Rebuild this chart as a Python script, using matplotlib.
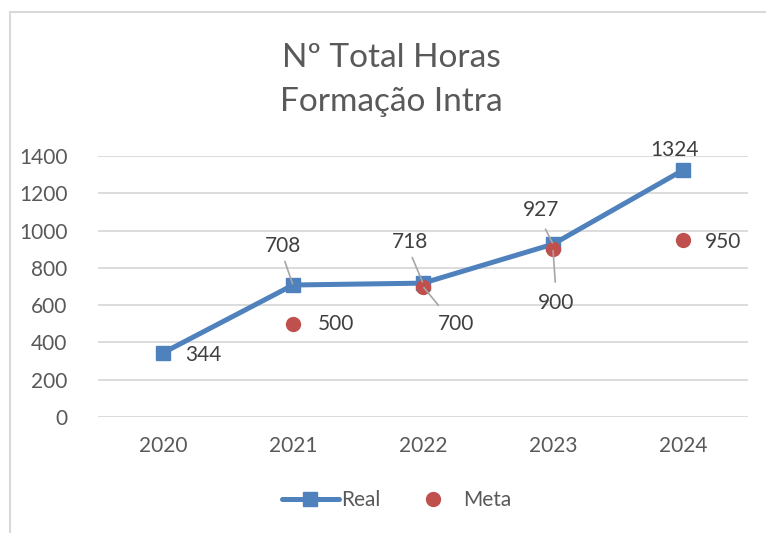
import matplotlib
matplotlib.use('Agg')
import matplotlib.pyplot as plt
from matplotlib.lines import Line2D

plt.rcParams['font.family'] = ['Lato', 'DejaVu Sans']

# data
anos = ['2020', '2021', '2022', '2023', '2024']
real = [344, 708, 718, 927, 1324]
meta = [None, 500, 700, 900, 950]
yticks = [0, 200, 400, 600, 800, 1000, 1200, 1400]

azul = '#4f81bd'
vermelho = '#c0504d'
cinza_txt = '#595959'
cinza_lab = '#404040'
cinza_grid = '#d9d9d9'
cinza_leader = '#a6a6a6'

fig = plt.figure(figsize=(7.66, 5.33), dpi=100)
ax = fig.add_axes([98 / 766, 116 / 533, 650 / 766, 261 / 533])

x = list(range(len(anos)))
ax.plot(x, real, color=azul, lw=3.6, marker='s', ms=10, zorder=3,
        solid_capstyle='round')
mx = [i for i, v in enumerate(meta) if v is not None]
my = [v for v in meta if v is not None]
ax.plot(mx, my, ls='none', marker='o', ms=10, color=vermelho, zorder=4)

ax.set_xlim(-0.5, len(anos) - 0.5)
ax.set_ylim(0, 1400)
ax.set_yticks(yticks)
ax.set_xticks(x)
ax.set_xticklabels(anos)
ax.yaxis.grid(True, color=cinza_grid, lw=1.3)
ax.set_axisbelow(True)
for s in ax.spines.values():
    s.set_visible(False)
ax.tick_params(length=0, labelsize=15, colors=cinza_txt)
ax.tick_params(axis='y', pad=22)
ax.tick_params(axis='x', pad=14)

# data labels: (offset x, offset y) in pixels, ha, leader (relpos, shrinkA)
lab_real = [((22, -2), 'left', None),
            ((-10, 39), 'center', ((0.5, 0), 2)),
            ((-13, 41), 'center', ((0.5, 0), 2)),
            ((-12, 34), 'center', ((0.5, 0), 5)),
            ((-8, 20), 'center', None)]
lab_meta = [None,
            ((25, 0), 'left', None),
            ((33, -37), 'center', ((0.2, 1), 5)),
            ((3, -54), 'center', ((0.5, 1), 6)),
            ((22, -2), 'left', None)]

def rotula(i, v, cfg):
    (dx, dy), ha, leader = cfg
    kw = {}
    if leader is not None:
        rel, shA = leader
        kw['arrowprops'] = dict(arrowstyle='-', color=cinza_leader, lw=1.2,
                                shrinkA=shA, shrinkB=1, relpos=rel)
    ax.annotate(str(v), xy=(i, v), xytext=(dx, dy), textcoords='offset pixels',
                ha=ha, va='center', fontsize=15, color=cinza_lab, zorder=5, **kw)

for i, v in enumerate(real):
    rotula(i, v, lab_real[i])
for i, v in enumerate(meta):
    if v is not None:
        rotula(i, v, lab_meta[i])

fig.text(391 / 766, 1 - 80 / 533, 'Nº Total Horas\nFormação Intra', ha='center',
         va='center', fontsize=24, color=cinza_txt, linespacing=1.55)

h_real = Line2D([], [], color=azul, lw=3.6, marker='s', ms=10,
                solid_capstyle='round')
h_meta = Line2D([], [], ls='none', marker='o', ms=10, color=vermelho)
fig.legend([h_real, h_meta], ['Real', 'Meta'], loc='center',
           bbox_to_anchor=(397 / 766, 1 - 500 / 533), ncol=2, frameon=False,
           fontsize=15, labelcolor=cinza_txt, handlelength=2.7,
           handletextpad=0.1, columnspacing=1.2)

# chart border (left and top)
fig.add_artist(Line2D([10 / 766, 10 / 766], [0, 1 - 12 / 533], color=cinza_grid,
                      lw=1.5, transform=fig.transFigure))
fig.add_artist(Line2D([10 / 766, 1], [1 - 12 / 533, 1 - 12 / 533], color=cinza_grid,
                      lw=1.5, transform=fig.transFigure))

fig.savefig('out.png', dpi=100, facecolor='white')
